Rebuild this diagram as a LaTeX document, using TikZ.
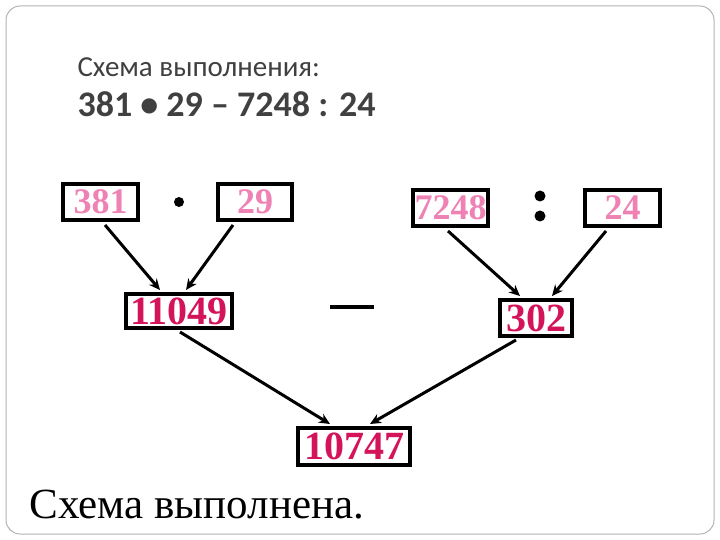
\documentclass[tikz,border=0pt]{standalone}
\usepackage{fontspec}
\setmainfont{Liberation Serif}
\newfontfamily\carfont{Carlito}
\usetikzlibrary{arrows.meta}
\definecolor{lpink}{HTML}{EE82B4}
\definecolor{dpink}{HTML}{D4145A}
\definecolor{tgray}{HTML}{404040}
\tikzset{x=1pt,y=-1pt,
 nbox/.style={draw=black,line width=4pt,inner sep=0pt,font=\bfseries\fontsize{36}{36}\selectfont},
 lt/.style={nbox,text=lpink},
 dk/.style={nbox,text=dpink,font=\bfseries\fontsize{40}{40}\selectfont},
 arr/.style={line width=3pt,-{Stealth[length=11pt,width=10pt]}}}
\begin{document}
\begin{tikzpicture}
\useasboundingbox (0,0) rectangle (720,540);
\draw[gray!60,line width=1pt,rounded corners=14pt] (6,6) rectangle (714,534);
\node[anchor=west,text=tgray,font=\carfont\fontsize{29}{29}\selectfont] (t1) at (74,67) {Схема выполнения:};
\node[anchor=west,text=tgray,font=\carfont\bfseries\fontsize{36}{36}\selectfont] (t2) at (74,104) {381 • 29 – 7248 : 24};
\node[lt,minimum width=75,minimum height=36] (a) at (100.5,202) {381};
\node[lt,minimum width=74,minimum height=36] (b) at (255,202) {29};
\node[lt,minimum width=75,minimum height=36] (c) at (450.5,208) {7248};
\node[lt,minimum width=75,minimum height=36] (d) at (622.5,208) {24};
\node[dk,minimum width=106,minimum height=34] (e) at (179,311) {11049};
\node[dk,minimum width=72,minimum height=36] (f) at (536,318) {302};
\node[dk,minimum width=112,minimum height=37] (g) at (354,446.5) {10747};
\fill (179,202) circle (5);
\fill (540,196) circle (5.5) (540,216) circle (5.5);
\draw[line width=4pt] (330,307) -- (374,307);
\draw[arr] ([shift={(44,3)}]a.south west) -- ([shift={(-19,-2)}]e.north);
\draw[arr] ([shift={(17,3)}]b.south west) -- ([shift={(7,-2)}]e.north);
\draw[arr] ([shift={(37,3)}]c.south west) -- ([shift={(-16,-2)}]f.north);
\draw[arr] ([shift={(23,3)}]d.south west) -- ([shift={(16,-2)}]f.north);
\draw[arr] ([shift={(1,2)}]e.south) -- ([shift={(-24,-2)}]g.north);
\draw[arr] ([shift={(18,2)}]f.south west) -- ([shift={(16,-2)}]g.north);
\node[anchor=west,font=\fontsize{43}{43}\selectfont] (t3) at (26,505) {Схема выполнена.};
\end{tikzpicture}
\end{document}
